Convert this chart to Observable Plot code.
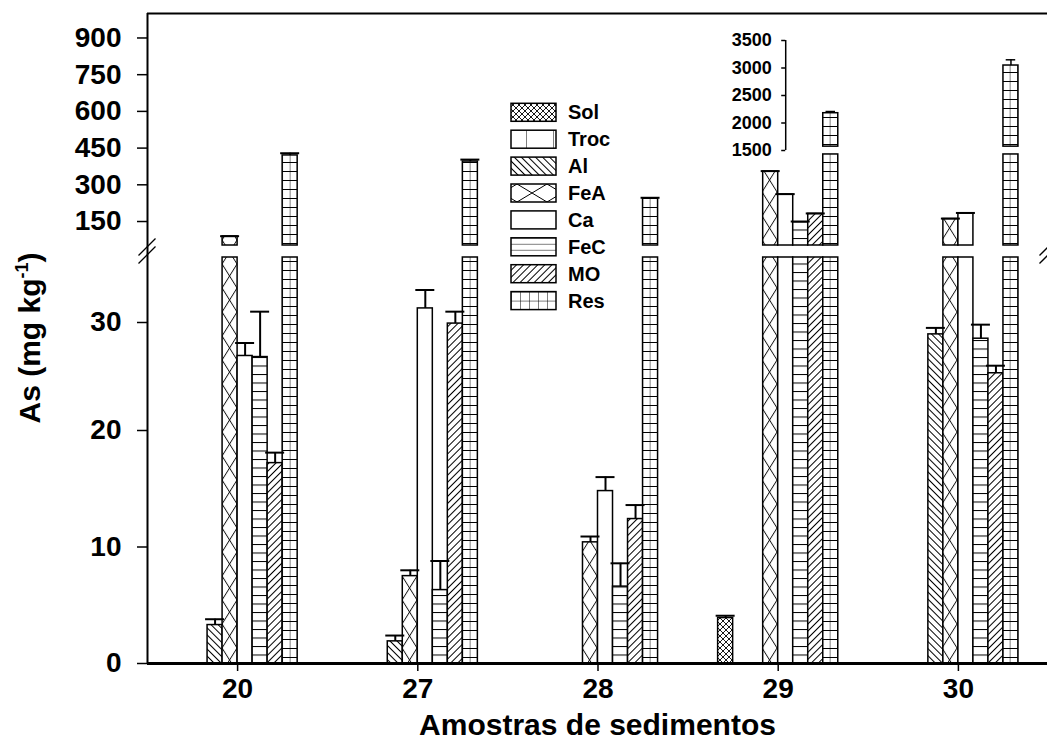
<!DOCTYPE html>
<html>
<head>
<meta charset="utf-8">
<script src="https://cdn.jsdelivr.net/npm/d3@7"></script>
<script src="https://cdn.jsdelivr.net/npm/@observablehq/plot@0.6"></script>
<style>
  html, body { margin: 0; padding: 0; background: #fff; overflow: hidden; }
  #wrap { position: relative; width: 1047px; height: 744px; }
  #wrap svg { display: block; }
  #wrap svg.layer { position: absolute; left: 0; top: 0; pointer-events: none; }
</style>
</head>
<body>
<svg id="defs" width="0" height="0" style="position:absolute;left:0;top:0"></svg>
<div id="wrap"></div>
<script>
// Sediment samples and As fractions
const samples = ["20", "27", "28", "29", "30"];
const fractions = ["Sol", "Troc", "Al", "FeA", "Ca", "FeC", "MO", "Res"];

// As concentration (mg kg-1) per fraction, one value per sample
const solValues  = [0, 0, 0, 3.9, 0];
const trocValues = [0, 0, 0, 0, 0];
const alValues   = [3.3, 1.9, 0, 0, 28.9];
const feaValues  = [89, 7.5, 10.4, 354, 160];
const caValues   = [26.9, 31.3, 14.8, 260, 183];
const fecValues  = [26.8, 6.3, 6.6, 147, 28.5];
const moValues   = [17.2, 29.9, 12.4, 181, 25.3];
const resValues  = [420, 395, 243, 2178, 3045];

// Standard deviations (upper error bars)
const solErr  = [0, 0, 0, 0.2, 0];
const trocErr = [0, 0, 0, 0, 0];
const alErr   = [0.5, 0.5, 0, 0, 0.6];
const feaErr  = [1, 0.5, 0.5, 2, 2];
const caErr   = [1.2, 1.7, 1.2, 2, 2];
const fecErr  = [4.2, 2.5, 2.0, 3, 1.3];
const moErr   = [0.9, 1.1, 1.2, 2, 0.7];
const resErr  = [9, 8, 4, 31, 104];

// Axis ticks
const lowerTicks = [0, 10, 20, 30];
const upperTicks = [150, 300, 450, 600, 750, 900];
const insetTicks = [1500, 2000, 2500, 3000, 3500];

const xTitle = "Amostras de sedimentos";

// ---- build tidy rows ----
const valuesBy = {Sol: solValues, Troc: trocValues, Al: alValues, FeA: feaValues, Ca: caValues, FeC: fecValues, MO: moValues, Res: resValues};
const errBy = {Sol: solErr, Troc: trocErr, Al: alErr, FeA: feaErr, Ca: caErr, FeC: fecErr, MO: moErr, Res: resErr};
const nF = fractions.length;
const barW = 1 / 12; // width of one bar in sample units
const rows = [];
samples.forEach((sample, g) => {
  fractions.forEach((f, s) => {
    const value = valuesBy[f][g];
    if (!(value > 0)) return;
    rows.push({
      sample, fraction: f, value, err: errBy[f][g],
      x1: g + (s - nF / 2) * barW,
      x2: g + (s - nF / 2 + 1) * barW,
      xc: g + (s - nF / 2 + 0.5) * barW
    });
  });
});

// Axis breaks: lower panel up to 36, upper panel from 52 up to 1000,
// values above 1500 continue on the inset scale.
const LOW_MAX = 36, UP_MIN = 52, UP_MAX = 1000, UP_CLIP = 424, INSET_MIN = 1500, INSET_FLOOR = 1570;
const mainPieces = [], insetPieces = [];
for (const r of rows) {
  mainPieces.push({...r, y1: 0, y2: Math.min(r.value, LOW_MAX)});
  if (r.value > UP_MIN) mainPieces.push({...r, y1: UP_MIN, y2: r.value > INSET_MIN ? UP_CLIP : r.value});
  if (r.value > INSET_MIN) insetPieces.push({...r, y1: INSET_FLOOR, y2: r.value});
}
const mainErr = rows.filter(r => r.value <= INSET_MIN);
const insetErr = rows.filter(r => r.value > INSET_MIN);

// ---- layout ----
const W = 1047, H = 744;
const xDomain = [-0.5, samples.length - 0.5];
const xRange = [147, 1048];
const xs = d3.scaleLinear(xDomain, xRange);
const capHalf = 9.5 / (xs(1) - xs(0));
const font = "'Liberation Sans', Arial, Helvetica, sans-serif";

// ---- hatch patterns ----
const defs = d3.select("#defs").append("defs");
function pattern(id, w, h, d, opts = {}) {
  const p = defs.append("pattern")
    .attr("id", id)
    .attr("patternUnits", "userSpaceOnUse")
    .attr("width", w).attr("height", h)
    .attr("x", opts.x || 0).attr("y", opts.y || 0);
  if (opts.rotate) p.attr("patternTransform", `rotate(${opts.rotate})`);
  p.append("rect").attr("width", w).attr("height", h).attr("fill", "white");
  if (d) p.append("path").attr("d", d).attr("fill", "none").attr("stroke", "black").attr("stroke-width", opts.sw || 1);
}
// bar patterns
pattern("bar-Sol", 6, 6, "M0,0L6,6M6,0L0,6M-1,5L1,7M5,-1L7,1M-1,1L1,-1M5,7L7,5", {sw: 0.9});
pattern("bar-Troc", 15, 10, "M7.5,0V10", {x: xs(-2 * barW)});
pattern("bar-Al", 5, 5, "M2.5,-1V6", {rotate: -45});
pattern("bar-FeA", 15, 24, "M0,0L15,24M15,0L0,24", {x: xs(-barW)});
pattern("bar-Ca", 10, 10, null);
pattern("bar-FeC", 10, 8.5, "M0,0.5H10");
pattern("bar-MO", 5, 5, "M2.5,-1V6", {rotate: 45});
pattern("bar-Res", 7.5, 9, "M0,0V9M0,0.5H7.5", {x: xs(3 * barW)});

// legend layout
const legX = 511, legTop = 103.3, legGap = 26.9, swW = 45, swH = 18, legTextX = 568;
pattern("leg-Troc", 27, 20, "M0,0V20", {x: legX + 15});
pattern("leg-FeA", 30, 18, "M0,0L30,18M30,0L0,18", {x: legX + 6, y: legTop + 3 * legGap});
pattern("leg-FeC", 10, 6, "M0,0H10", {y: legTop + 5 * legGap});
pattern("leg-Res", 9, 9, "M0,0V9M0,0H9", {x: legX, y: legTop + 7 * legGap});
const legendFill = f => ({
  Sol: "url(#bar-Sol)", Troc: "url(#leg-Troc)", Al: "url(#bar-Al)", FeA: "url(#leg-FeA)",
  Ca: "white", FeC: "url(#leg-FeC)", MO: "url(#bar-MO)", Res: "url(#leg-Res)"
})[f];

const colorScale = {type: "ordinal", domain: fractions, range: fractions.map(f => f === "Ca" ? "white" : `url(#bar-${f})`)};

// ---- main chart (broken y axis) ----
const main = Plot.plot({
  width: W, height: H,
  marginLeft: xRange[0], marginRight: 0, marginTop: 13, marginBottom: H - 663,
  style: {background: "white", color: "black", fontFamily: font, fontWeight: "bold", fontSize: "28px"},
  x: {domain: xDomain, range: xRange, axis: null},
  y: {type: "linear", domain: [0, 20, 30, LOW_MAX, UP_MIN, UP_MAX], range: [663, 430, 322, 257, 245, 13], axis: null},
  color: colorScale,
  marks: [
    Plot.rect(mainPieces, {x1: "x1", x2: "x2", y1: "y1", y2: "y2", fill: "fraction", stroke: "black", strokeWidth: 1.5}),
    Plot.ruleX(mainErr.filter(d => d.err > 0), {x: "xc", y1: "value", y2: d => d.value + d.err, strokeWidth: 2}),
    Plot.ruleY(mainErr.filter(d => d.err > 0), {y: d => d.value + d.err, x1: d => d.xc - capHalf, x2: d => d.xc + capHalf, strokeWidth: 2}),
    Plot.ruleX([xDomain[0]], {y1: 0, y2: UP_MAX, strokeWidth: 2}),
    Plot.ruleY([UP_MAX], {x1: xDomain[0], x2: xDomain[1], strokeWidth: 2}),
    Plot.ruleY([0], {x1: xDomain[0], x2: xDomain[1], strokeWidth: 3}),
    Plot.axisY([...lowerTicks, ...upperTicks], {anchor: "left", tickSize: 10, tickPadding: 16, tickFormat: d => String(d), label: null, strokeWidth: 1.5}),
    Plot.axisX(d3.range(samples.length), {anchor: "bottom", tickSize: 8, tickPadding: 7, tickFormat: i => samples[i], label: null, strokeWidth: 1.5})
  ]
});

// ---- inset scale for the residual fraction above 1500 ----
const insetAxisX = 3 + 0.5 * barW;
const inset = Plot.plot({
  width: W, height: 160,
  marginLeft: xs(insetAxisX), marginRight: 0, marginTop: 0, marginBottom: 0,
  style: {background: "transparent", color: "black", fontFamily: font, fontWeight: "bold", fontSize: "18px"},
  x: {domain: xDomain, range: xRange, axis: null},
  y: {domain: [INSET_MIN, 3500], range: [150, 40], axis: null},
  color: colorScale,
  marks: [
    Plot.rect(insetPieces, {x1: "x1", x2: "x2", y1: "y1", y2: "y2", fill: "fraction", stroke: "black", strokeWidth: 1.5}),
    Plot.ruleX(insetErr, {x: "xc", y1: "value", y2: d => d.value + d.err, strokeWidth: 1.5}),
    Plot.ruleY(insetErr, {y: d => d.value + d.err, x1: d => d.xc - capHalf * 0.5, x2: d => d.xc + capHalf * 0.5, strokeWidth: 1.5}),
    Plot.ruleX([insetAxisX], {y1: INSET_MIN, y2: 3500, strokeWidth: 1.5}),
    Plot.axisY(insetTicks, {anchor: "left", tickSize: 4, tickPadding: 10, tickFormat: d => String(d), label: null, strokeWidth: 1.5})
  ]
});
inset.classList.add("layer");

const wrap = document.getElementById("wrap");
wrap.appendChild(main);
wrap.appendChild(inset);

// ---- decorations drawn with the chart's own scales ----
const svg = d3.select(main);
const sx = main.scale("x"), sy = main.scale("y");
const yBreak = (sy.apply(LOW_MAX) + sy.apply(UP_MIN)) / 2;
const brk = svg.append("g").attr("stroke", "black").attr("stroke-width", 1.3);
for (const xv of xDomain) {
  const px = sx.apply(xv);
  for (const off of [-4, 4]) {
    brk.append("line")
      .attr("x1", px + 8.5).attr("y1", yBreak + off - 8.5)
      .attr("x2", px - 8.5).attr("y2", yBreak + off + 8.5);
  }
}

// axis titles
svg.append("text")
  .attr("x", (sx.apply(xDomain[0]) + sx.apply(xDomain[1])) / 2)
  .attr("y", 735)
  .attr("text-anchor", "middle")
  .style("font", `bold 30px ${font}`)
  .text(xTitle);

const yt = svg.append("text")
  .attr("transform", "translate(40,338) rotate(-90)")
  .attr("text-anchor", "middle")
  .style("font", `bold 30px ${font}`);
yt.append("tspan").text("As (mg kg");
yt.append("tspan").attr("dy", -12).style("font-size", "18px").text("-1");
yt.append("tspan").attr("dy", 12).text(")");

// legend
const leg = svg.append("g").attr("text-anchor", "start");
fractions.forEach((f, i) => {
  const y0 = legTop + i * legGap;
  leg.append("rect")
    .attr("x", legX).attr("y", y0).attr("width", swW).attr("height", swH)
    .attr("fill", legendFill(f)).attr("stroke", "black").attr("stroke-width", 1.5);
  leg.append("text")
    .attr("x", legTextX).attr("y", y0 + swH / 2)
    .attr("dy", "0.35em")
    .attr("text-anchor", "start")
    .style("font", `bold 20px ${font}`)
    .text(f);
});
</script>
</body>
</html>
